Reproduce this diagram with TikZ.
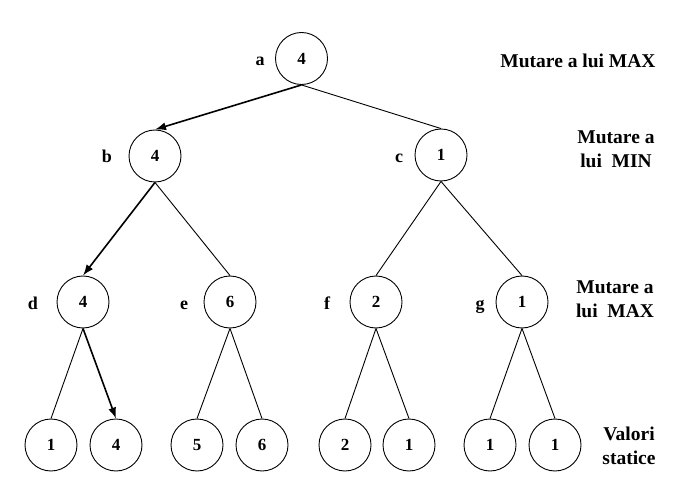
\documentclass[tikz,border=0pt]{standalone}
\usepackage{fontspec}
\setmainfont{Liberation Serif}
\usetikzlibrary{arrows.meta}
\begin{document}
\begin{tikzpicture}[x=1pt,y=-1pt,
  vnode/.style={circle,draw,line width=0.9pt,minimum size=52pt,inner sep=0pt,font=\fontsize{17}{19}\selectfont\bfseries},
  lbl/.style={anchor=base,font=\fontsize{18}{20}\selectfont\bfseries},
  side/.style={align=center,font=\fontsize{19.5}{23.5}\selectfont\bfseries},
  edge/.style={line width=0.9pt},
  best/.style={line width=1.6pt,-{Latex[length=11pt,width=8pt]}}]
\useasboundingbox (0,0) rectangle (685,486);
\node[vnode] (a) at (301.5,58.5) {4};
\node[vnode] (b) at (155,156) {4};
\node[vnode] (c) at (441,155) {1};
\node[vnode] (d) at (83,302) {4};
\node[vnode] (e) at (230,302) {6};
\node[vnode] (f) at (376,302) {2};
\node[vnode] (g) at (522,302) {1};
\node[vnode] (l1) at (51,445) {1};
\node[vnode] (l2) at (116,445) {4};
\node[vnode] (l3) at (197,445) {5};
\node[vnode] (l4) at (262,445) {6};
\node[vnode] (l5) at (345,445) {2};
\node[vnode] (l6) at (409,445) {1};
\node[vnode] (l7) at (490,445) {1};
\node[vnode] (l8) at (555,445) {1};
\node[lbl] (la) at (260,66) {a};
\node[lbl] (lb) at (107,163) {b};
\node[lbl] (lc) at (399,163) {c};
\node[lbl] (ld) at (33,309) {d};
\node[lbl] (le) at (184,309) {e};
\node[lbl] (lf) at (327,309) {f};
\node[lbl] (lg) at (480,309) {g};
\node[side] (s1) at (578,61) {Mutare a lui MAX};
\node[side] (s2) at (616,149) {Mutare a\\lui\ \ MIN};
\node[side] (s3) at (615,299) {Mutare a\\lui\ \ MAX};
\node[side] (s4) at (629,446) {Valori\\statice};
\draw[best] (a.south) -- (b.north);
\draw[edge] (a.south) -- (c.north);
\draw[best] (b.south) -- (d.north);
\draw[edge] (b.south) -- (e.north);
\draw[edge] (c.south) -- (f.north);
\draw[edge] (c.south) -- (g.north);
\draw[edge] (d.south) -- (l1.north);
\draw[best] (d.south) -- (l2.north);
\draw[edge] (e.south) -- (l3.north);
\draw[edge] (e.south) -- (l4.north);
\draw[edge] (f.south) -- (l5.north);
\draw[edge] (f.south) -- (l6.north);
\draw[edge] (g.south) -- (l7.north);
\draw[edge] (g.south) -- (l8.north);
\end{tikzpicture}
\end{document}
